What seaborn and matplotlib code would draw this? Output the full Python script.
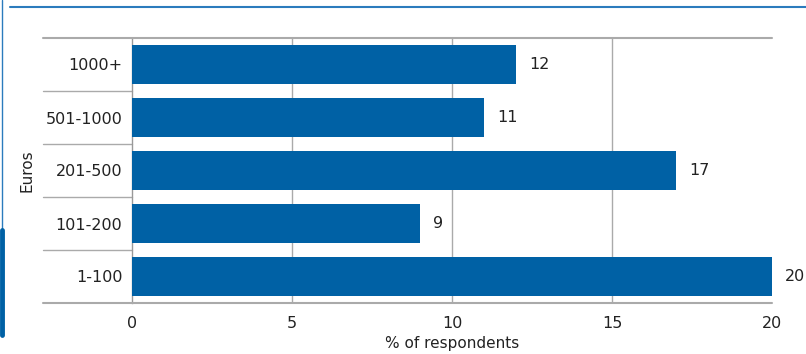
import matplotlib
matplotlib.use("Agg")
import matplotlib.pyplot as plt
import matplotlib.transforms as mtransforms
from matplotlib.lines import Line2D
import seaborn as sns
import pandas as pd

categories = ["1000+", "501-1000", "201-500", "101-200", "1-100"]
values = [12, 11, 17, 9, 20]
x_ticks = [0, 5, 10, 15, 20]

sns.set_theme(style="white")
plt.rcParams['font.family'] = ['DejaVu Sans']

df = pd.DataFrame({"Euros": categories, "pct": values})

fig = plt.figure(figsize=(8.06, 3.54), dpi=100)
ax = fig.add_axes([132/806, 1-303/354, (772-132)/806, (303-38)/354])

bar_color = "#0061a5"
sns.barplot(data=df, y="Euros", x="pct", order=categories, color=bar_color,
            width=0.74, saturation=1, linewidth=0, ax=ax, zorder=3)

ax.set_xlim(0, 20)
ax.set_ylim(4.5, -0.5)
ax.set_xticks(x_ticks)
ax.set_xticklabels([str(t) for t in x_ticks])
ax.tick_params(axis='both', length=0, labelsize=11.5, colors="#222222")
ax.tick_params(axis='y', pad=7)
ax.tick_params(axis='x', pad=9)
ax.set_xlabel("% of respondents", fontsize=11, color="#222222", labelpad=4)
ax.set_ylabel("Euros", fontsize=11, color="#222222", labelpad=8)

for s in ["top", "right", "bottom"]:
    ax.spines[s].set_visible(False)
ax.spines["left"].set_color("#999999")
ax.spines["left"].set_linewidth(1.0)

# inner vertical gridlines (no line at the right edge)
for t in x_ticks[1:-1]:
    ax.axvline(t, color="#aaaaaa", linewidth=1.0, zorder=0)

# value labels
for i, v in enumerate(values):
    ax.text(v + 0.4, i, str(v), va="center", ha="left", fontsize=11.5, color="#222222")

# separators in label area and top/bottom frame lines
trans = mtransforms.blended_transform_factory(ax.transAxes, ax.transData)
x_left = (43 - 132) / 640
for b in [0.5, 1.5, 2.5, 3.5]:
    ax.plot([x_left, 0], [b, b], transform=trans, color="#aaaaaa", lw=1.0, clip_on=False)
for b in [-0.5, 4.5]:
    ax.plot([x_left, 1.0], [b, b], transform=trans, color="#aaaaaa", lw=1.5, clip_on=False, zorder=4)

# cropped-screenshot decorations
fig.add_artist(Line2D([10/806, 1.0], [1-7/354, 1-7/354], color="#2b7bbd", lw=1.5))
fig.add_artist(Line2D([2/806, 2/806], [1-230/354, 1.0], color="#2b7bbd", lw=1.0))
fig.add_artist(Line2D([2/806, 2/806], [1-335/354, 1-230/354], color="#0061a5", lw=3.5))

fig.savefig("out.png", dpi=100)
